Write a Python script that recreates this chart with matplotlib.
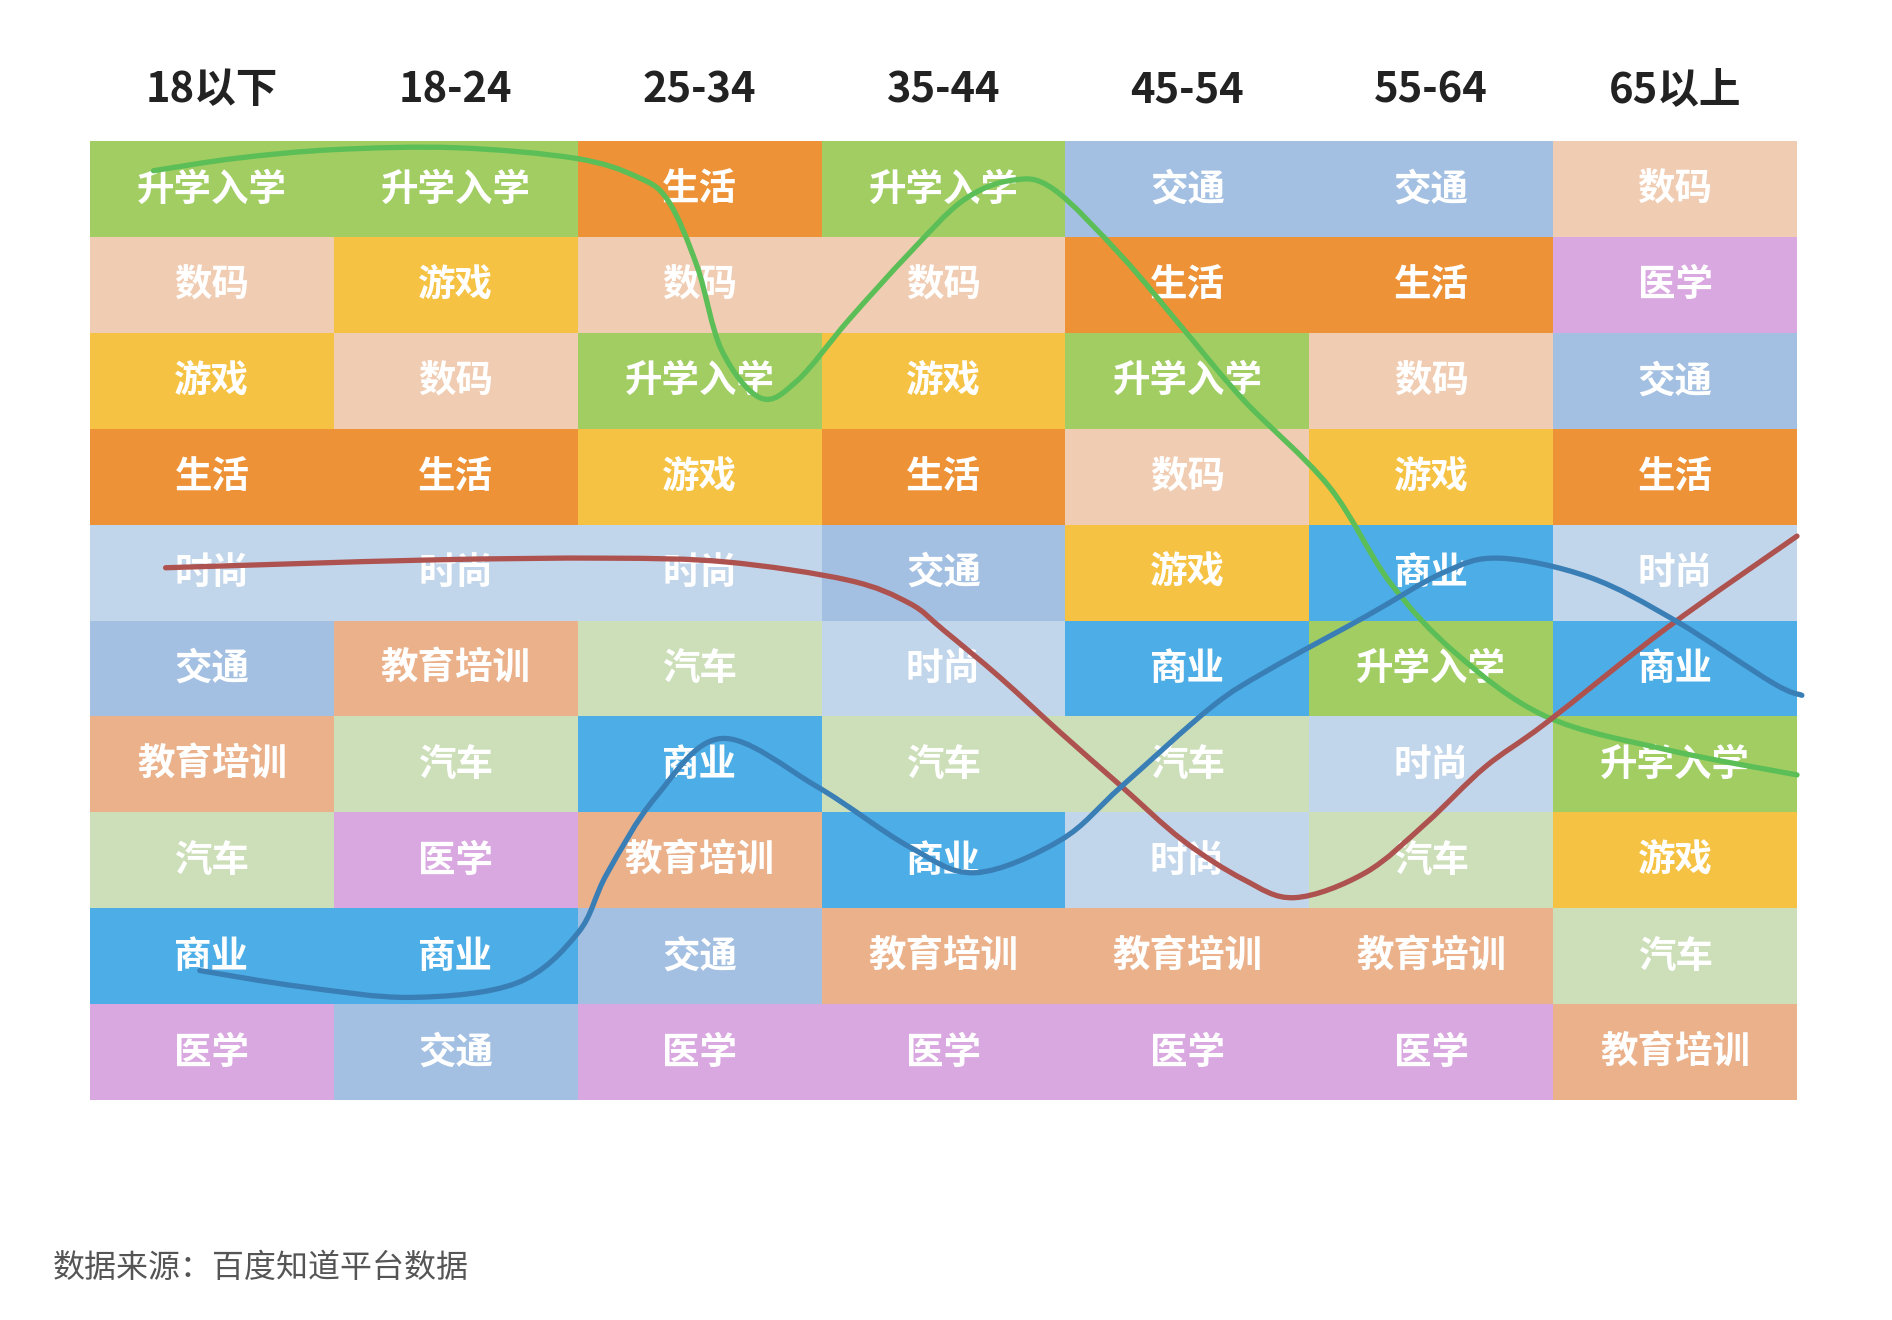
import numpy as np
import matplotlib.pyplot as plt
from matplotlib.colors import ListedColormap
from matplotlib.path import Path
from matplotlib.patches import PathPatch

plt.rcParams['font.family'] = ['Noto Sans CJK SC', 'DejaVu Sans']

age_groups = ["18以下", "18-24", "25-34", "35-44", "45-54", "55-64", "65以上"]

topics = ["升学入学", "数码", "游戏", "生活", "时尚", "交通", "教育培训", "汽车", "商业", "医学"]
topic_colors = ["#A1CD63", "#F0CCB2", "#F5C243", "#ED9236", "#C2D6EB",
                "#A3C0E2", "#EAB18B", "#CCDFB9", "#4DAEE7", "#D9A8E0"]

# topic ranking in each age group, top to bottom
rank_under18 = ["升学入学", "数码", "游戏", "生活", "时尚", "交通", "教育培训", "汽车", "商业", "医学"]
rank_18_24 = ["升学入学", "游戏", "数码", "生活", "时尚", "教育培训", "汽车", "医学", "商业", "交通"]
rank_25_34 = ["生活", "数码", "升学入学", "游戏", "时尚", "汽车", "商业", "教育培训", "交通", "医学"]
rank_35_44 = ["升学入学", "数码", "游戏", "生活", "交通", "时尚", "汽车", "商业", "教育培训", "医学"]
rank_45_54 = ["交通", "生活", "升学入学", "数码", "游戏", "商业", "汽车", "时尚", "教育培训", "医学"]
rank_55_64 = ["交通", "生活", "数码", "游戏", "商业", "升学入学", "时尚", "汽车", "教育培训", "医学"]
rank_over65 = ["数码", "医学", "交通", "生活", "时尚", "商业", "升学入学", "游戏", "汽车", "教育培训"]

rankings = [rank_under18, rank_18_24, rank_25_34, rank_35_44, rank_45_54, rank_55_64, rank_over65]

# hand drawn trend lines (column units, row units)
trend_edu_x = [0.26, 0.6, 1.0, 1.5, 1.99, 2.24, 2.37, 2.49, 2.59, 2.75, 2.9, 3.11, 3.36, 3.58, 3.78,
               3.95, 4.23, 4.48, 4.73, 5.08, 5.33, 5.6, 5.97, 6.47, 7.0]
trend_edu_y = [0.31, 0.18, 0.09, 0.07, 0.18, 0.37, 0.62, 1.31, 2.18, 2.68, 2.5, 1.87, 1.17, 0.62, 0.41,
               0.5, 1.2, 1.95, 2.7, 3.6, 4.6, 5.34, 6.0, 6.35, 6.61]

trend_fashion_x = [0.31, 1.37, 2.12, 2.61, 3.11, 3.36, 3.5, 3.73, 3.98, 4.23, 4.48, 4.73, 4.94,
                   5.23, 5.48, 5.72, 5.97, 6.47, 7.0]
trend_fashion_y = [4.45, 4.37, 4.35, 4.39, 4.58, 4.82, 5.1, 5.59, 6.17, 6.73, 7.29, 7.7, 7.89,
                   7.63, 7.11, 6.53, 6.07, 5.07, 4.12]

trend_biz_x = [0.45, 0.87, 1.32, 1.75, 2.0, 2.12, 2.32, 2.59, 2.98, 3.36, 3.63, 3.98, 4.23, 4.6,
               4.83, 5.23, 5.55, 5.78, 6.15, 6.5, 6.9, 7.02]
trend_biz_y = [8.65, 8.82, 8.93, 8.78, 8.26, 7.64, 6.84, 6.23, 6.73, 7.36, 7.63, 7.29, 6.73, 5.9,
               5.52, 4.96, 4.5, 4.35, 4.55, 5.0, 5.65, 5.78]


def smooth_path(xs, ys):
    pts = np.column_stack([xs, ys])
    verts = [pts[0]]
    codes = [Path.MOVETO]
    n = len(pts)
    for i in range(n - 1):
        p0 = pts[max(i - 1, 0)]
        p1 = pts[i]
        p2 = pts[i + 1]
        p3 = pts[min(i + 2, n - 1)]
        verts += [p1 + (p2 - p0) / 6, p2 - (p3 - p1) / 6, p2]
        codes += [Path.CURVE4] * 3
    return Path(verts, codes)


fig = plt.figure(figsize=(18.92, 13.2), dpi=100)
ax = fig.add_axes([90 / 1892, 1 - 1100 / 1320, 1707 / 1892, 959 / 1320])

grid = np.array([[topics.index(t) for t in col] for col in rankings]).T
cmap = ListedColormap(topic_colors)
ax.pcolormesh(np.arange(8), np.arange(11), grid, cmap=cmap, vmin=-0.5, vmax=9.5,
              shading='flat', antialiased=False, edgecolors='none')

for c, col in enumerate(rankings):
    for r, t in enumerate(col):
        ax.text(c + 0.5, r + 0.5, t, ha='center', va='center', color='white',
                fontsize=27, fontweight='bold', zorder=3)

for c, name in enumerate(age_groups):
    ax.text(c + 0.5, -0.53, name, ha='center', va='center', color='#222222',
            fontsize=30, fontweight='bold', clip_on=False)

for xs, ys, col in [(trend_edu_x, trend_edu_y, '#5BBE57'),
                    (trend_fashion_x, trend_fashion_y, '#AD524F'),
                    (trend_biz_x, trend_biz_y, '#3A7EB6')]:
    ax.add_patch(PathPatch(smooth_path(xs, ys), facecolor='none', edgecolor=col,
                           lw=3.8, capstyle='round', zorder=5, clip_on=False))

ax.set_xlim(0, 7)
ax.set_ylim(10, 0)
ax.axis('off')

fig.text(53 / 1892, 1 - 1268 / 1320, "数据来源：百度知道平台数据", ha='left', va='center',
         color='#555555', fontsize=23)

fig.savefig('out.png', dpi=100)
